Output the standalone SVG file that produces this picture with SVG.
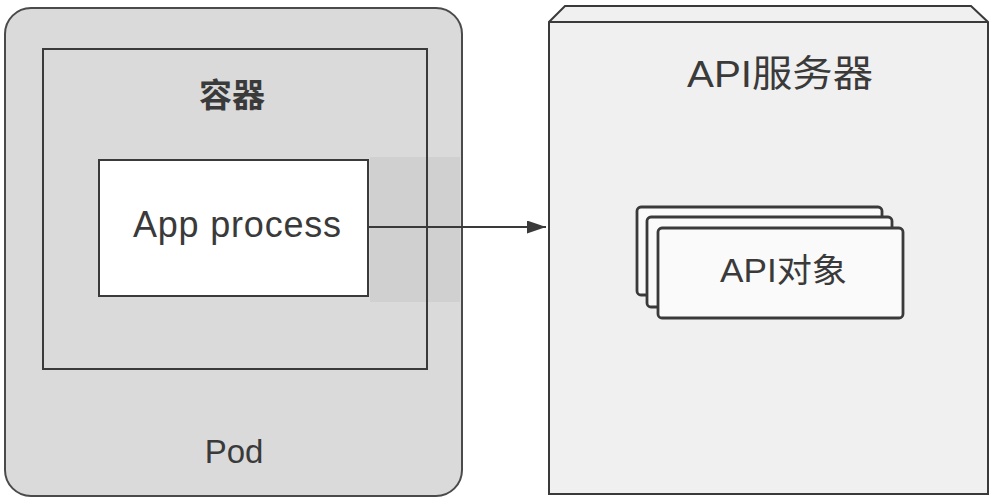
<svg xmlns="http://www.w3.org/2000/svg" width="996" height="502" viewBox="0 0 996 502">
<style>
.ln{stroke:#3a3a3a;stroke-width:2;fill:none}
.t{font-family:"Liberation Sans","Noto Sans CJK SC",sans-serif;fill:#3a3a3a}
.card{fill:#fafafa;stroke:#3a3a3a;stroke-width:2.8}
</style>
<defs>
<marker id="ah" markerWidth="20" markerHeight="14" refX="19" refY="6.5" orient="auto" markerUnits="userSpaceOnUse">
<path d="M0,0 L19,6.5 L0,13 Z" fill="#3a3a3a"/>
</marker>
</defs>
<rect width="996" height="502" fill="#ffffff"/>
<g id="pod">
<rect x="5" y="8" width="457" height="488" rx="26" fill="#dadada" stroke="#4a4a4a" stroke-width="2"/>
<text class="t" x="234" y="463" font-size="33" text-anchor="middle">Pod</text>
</g>
<rect x="370" y="157" width="90" height="145" fill="#d0d0d0"/>
<g id="container">
<rect x="43" y="49" width="384" height="320" class="ln"/>
<text class="t" x="232" y="107" font-size="33" font-weight="bold" text-anchor="middle">容器</text>
</g>
<g id="app">
<rect x="99" y="160" width="269" height="136" fill="#ffffff" stroke="#3a3a3a" stroke-width="2"/>
<text class="t" x="133" y="237" font-size="36" textLength="208" lengthAdjust="spacing">App process</text>
</g>
<g id="apiserver">
<path d="M549,494 L549,22 L565,6 L971,6 L988,22 L988,494 Z" fill="#f0f0f0" stroke="#3a3a3a" stroke-width="2"/>
<path d="M549,22 L988,22" class="ln"/>
<text class="t" x="687" y="87" font-size="37" textLength="186" lengthAdjust="spacingAndGlyphs">API服务器</text>
</g>
<g id="apiobjects">
<rect x="637" y="207" width="245" height="88" rx="4" class="card"/>
<rect x="647" y="217" width="245" height="90" rx="4" class="card"/>
<rect x="658" y="228" width="245" height="90" rx="4" class="card"/>
<text class="t" x="720" y="282" font-size="33" textLength="127" lengthAdjust="spacingAndGlyphs">API对象</text>
</g>
<g id="connectors">
<line x1="368" y1="227" x2="546" y2="227" stroke="#3a3a3a" stroke-width="2" marker-end="url(#ah)"/>
</g>
</svg>
